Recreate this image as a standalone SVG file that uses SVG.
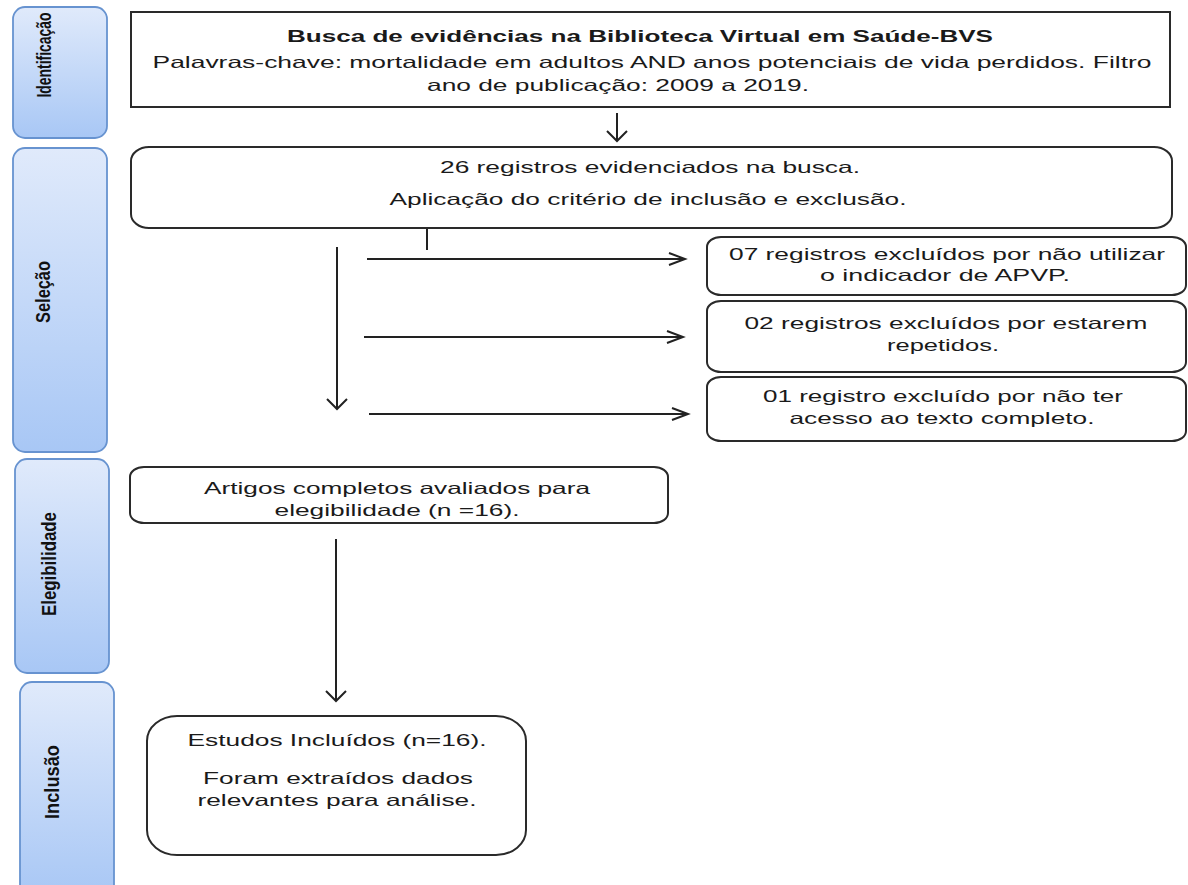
<svg xmlns="http://www.w3.org/2000/svg" width="1188" height="885" viewBox="0 0 1188 885">
<defs>
<linearGradient id="phase" x1="0" y1="0" x2="0" y2="1">
<stop offset="0" stop-color="#e0eafb"/>
<stop offset="1" stop-color="#a8c7f5"/>
</linearGradient>
<marker id="arrowH" markerUnits="userSpaceOnUse" markerWidth="20" markerHeight="16" refX="17" refY="7" orient="auto">
<path d="M1,1 L17,7 L1,13" fill="none" stroke="#222" stroke-width="2"/>
</marker>
<marker id="arrowV" markerUnits="userSpaceOnUse" markerWidth="14" markerHeight="24" refX="11" refY="11" orient="auto">
<path d="M1,1 L11,11 L1,21" fill="none" stroke="#222" stroke-width="2"/>
</marker>
</defs>
<style>
.phase{fill:url(#phase);stroke:#6793d0;stroke-width:1.8}
.plabel{font-family:"Liberation Sans",Arial,sans-serif;font-weight:bold;font-size:15px;fill:#111;text-anchor:middle}
.box{fill:#fff;stroke:#2a2a2a;stroke-width:2}
.t{font-family:"Liberation Sans",Arial,sans-serif;font-size:16.5px;fill:#1a1a1a;text-anchor:middle}
.tb{font-weight:bold}
.conn{fill:none;stroke:#222;stroke-width:2}
</style>
<rect width="1188" height="885" fill="#fff"/>

<g id="phase-identificacao">
<rect class="phase" x="13" y="7" width="94" height="131" rx="12"/>
<text class="plabel" transform="translate(51,55) scale(1.35,1) rotate(-90)" textLength="85" lengthAdjust="spacingAndGlyphs">Identificação</text>
</g>
<g id="phase-selecao">
<rect class="phase" x="13" y="148" width="94" height="304" rx="12"/>
<text class="plabel" transform="translate(50,292) scale(1.35,1) rotate(-90)" textLength="62" lengthAdjust="spacingAndGlyphs">Seleção</text>
</g>
<g id="phase-elegibilidade">
<rect class="phase" x="15" y="459" width="94" height="214" rx="12"/>
<text class="plabel" transform="translate(56,564) scale(1.35,1) rotate(-90)" textLength="104" lengthAdjust="spacingAndGlyphs">Elegibilidade</text>
</g>
<g id="phase-inclusao">
<rect class="phase" x="20" y="682" width="94" height="215" rx="12"/>
<text class="plabel" transform="translate(59,782) scale(1.35,1) rotate(-90)" textLength="74" lengthAdjust="spacingAndGlyphs">Inclusão</text>
</g>

<g id="busca">
<rect class="box" x="131" y="12" width="1039" height="95"/>
<text class="t tb" x="640" y="42" textLength="706" lengthAdjust="spacingAndGlyphs">Busca de evidências na Biblioteca Virtual em Saúde-BVS</text>
<text class="t" x="652" y="68" textLength="999" lengthAdjust="spacingAndGlyphs">Palavras-chave: mortalidade em adultos AND anos potenciais de vida perdidos. Filtro</text>
<text class="t" x="618" y="91" textLength="382" lengthAdjust="spacingAndGlyphs">ano de publicação: 2009 a 2019.</text>
</g>

<g id="registros">
<rect class="box" x="131" y="147" width="1041" height="81" rx="18" ry="14"/>
<text class="t" x="650" y="173" textLength="420" lengthAdjust="spacingAndGlyphs">26 registros evidenciados na busca.</text>
<text class="t" x="648" y="205" textLength="517" lengthAdjust="spacingAndGlyphs">Aplicação do critério de inclusão e exclusão.</text>
</g>

<g id="excluidos-apvp">
<rect class="box" x="707" y="237" width="479" height="58" rx="14" ry="10"/>
<text class="t" x="947" y="260" textLength="436" lengthAdjust="spacingAndGlyphs">07 registros excluídos por não utilizar</text>
<text class="t" x="945" y="281" textLength="250" lengthAdjust="spacingAndGlyphs">o indicador de APVP.</text>
</g>

<g id="excluidos-repetidos">
<rect class="box" x="707" y="301" width="479" height="71" rx="14" ry="10"/>
<text class="t" x="946" y="329" textLength="403" lengthAdjust="spacingAndGlyphs">02 registros excluídos por estarem</text>
<text class="t" x="943" y="351" textLength="112" lengthAdjust="spacingAndGlyphs">repetidos.</text>
</g>

<g id="excluidos-acesso">
<rect class="box" x="707" y="377" width="479" height="64" rx="14" ry="10"/>
<text class="t" x="943" y="402" textLength="360" lengthAdjust="spacingAndGlyphs">01 registro excluído por não ter</text>
<text class="t" x="942" y="424" textLength="305" lengthAdjust="spacingAndGlyphs">acesso ao texto completo.</text>
</g>

<g id="artigos">
<rect class="box" x="130" y="467" width="538" height="56" rx="14" ry="10"/>
<text class="t" x="397" y="494" textLength="386" lengthAdjust="spacingAndGlyphs">Artigos completos avaliados para</text>
<text class="t" x="397" y="516" textLength="245" lengthAdjust="spacingAndGlyphs">elegibilidade (n =16).</text>
</g>

<g id="estudos">
<rect class="box" x="147" y="716" width="379" height="139" rx="30" ry="25"/>
<text class="t" x="337" y="746" textLength="299" lengthAdjust="spacingAndGlyphs">Estudos Incluídos (n=16).</text>
<text class="t" x="338" y="784" textLength="270" lengthAdjust="spacingAndGlyphs">Foram extraídos dados</text>
<text class="t" x="337" y="806" textLength="279" lengthAdjust="spacingAndGlyphs">relevantes para análise.</text>
</g>

<g id="connectors">
<path class="conn" d="M617,113 V141" marker-end="url(#arrowV)"/>
<path class="conn" d="M427,229 V250"/>
<path class="conn" d="M337,247 V409" marker-end="url(#arrowV)"/>
<path class="conn" d="M367,259 H685" marker-end="url(#arrowH)"/>
<path class="conn" d="M364,337 H683" marker-end="url(#arrowH)"/>
<path class="conn" d="M369,414 H688" marker-end="url(#arrowH)"/>
<path class="conn" d="M336,539 V701" marker-end="url(#arrowV)"/>
</g>
</svg>
